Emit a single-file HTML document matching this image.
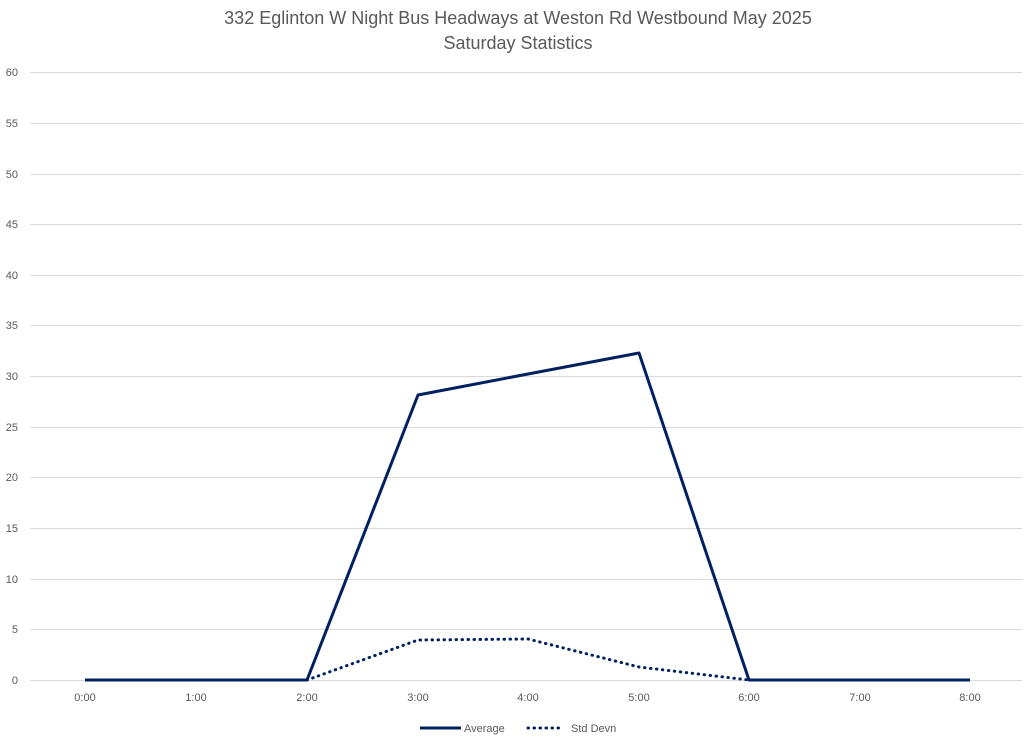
<!DOCTYPE html>
<html><head><style>
body{margin:0;background:#fff;}
svg text{font-family:"Liberation Sans",sans-serif;fill:#595959;}
</style></head><body>
<svg width="1024" height="744" viewBox="0 0 1024 744">
<rect width="1024" height="744" fill="#fff"/>
<text x="518" y="24" font-size="18" text-anchor="middle">332 Eglinton W Night Bus Headways at Weston Rd Westbound May 2025</text>
<text x="518" y="49" font-size="18" text-anchor="middle">Saturday Statistics</text>
<g stroke="#d9d9d9" stroke-width="1">
<line x1="30" x2="1022" y1="72.5" y2="72.5"/>
<line x1="30" x2="1022" y1="123.5" y2="123.5"/>
<line x1="30" x2="1022" y1="174.5" y2="174.5"/>
<line x1="30" x2="1022" y1="224.5" y2="224.5"/>
<line x1="30" x2="1022" y1="275.5" y2="275.5"/>
<line x1="30" x2="1022" y1="325.5" y2="325.5"/>
<line x1="30" x2="1022" y1="376.5" y2="376.5"/>
<line x1="30" x2="1022" y1="427.5" y2="427.5"/>
<line x1="30" x2="1022" y1="477.5" y2="477.5"/>
<line x1="30" x2="1022" y1="528.5" y2="528.5"/>
<line x1="30" x2="1022" y1="579.5" y2="579.5"/>
<line x1="30" x2="1022" y1="629.5" y2="629.5"/>
<line x1="30" x2="1022" y1="680.5" y2="680.5"/>
</g>
<g font-size="11" text-anchor="end">
<text x="18" y="76">60</text><text x="18" y="127">55</text><text x="18" y="178">50</text>
<text x="18" y="228">45</text><text x="18" y="279">40</text><text x="18" y="329">35</text>
<text x="18" y="380">30</text><text x="18" y="431">25</text><text x="18" y="481">20</text>
<text x="18" y="532">15</text><text x="18" y="583">10</text><text x="18" y="633">5</text>
<text x="18" y="684">0</text>
</g>
<g font-size="11" text-anchor="middle">
<text x="85" y="701">0:00</text><text x="196" y="701">1:00</text><text x="307" y="701">2:00</text>
<text x="418" y="701">3:00</text><text x="528" y="701">4:00</text><text x="639" y="701">5:00</text>
<text x="749" y="701">6:00</text><text x="860" y="701">7:00</text><text x="970" y="701">8:00</text>
</g>
<polyline fill="none" stroke="#002060" stroke-width="3" stroke-linecap="round" stroke-dasharray="0.5 5.5" points="307,680 418,640 528,639 639,667 749,680"/>
<polyline fill="none" stroke="#002060" stroke-width="3" stroke-linejoin="round" points="85,680 196,680 307,680 418,395 528,374 639,353 749,680 860,680 970,680"/>
<line x1="420" x2="461" y1="728" y2="728" stroke="#002060" stroke-width="3"/>
<text x="464" y="732" font-size="11">Average</text>
<line x1="528" x2="564" y1="728" y2="728" stroke="#002060" stroke-width="3" stroke-linecap="round" stroke-dasharray="0.5 5.5"/>
<text x="571" y="732" font-size="11">Std Devn</text>
</svg>
</body></html>
